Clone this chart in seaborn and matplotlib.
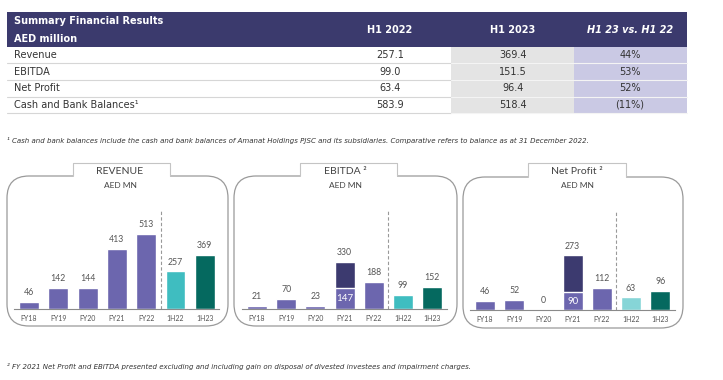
import numpy as np
import matplotlib
matplotlib.use('Agg')
import matplotlib.pyplot as plt
from matplotlib.patches import FancyBboxPatch, Rectangle
import seaborn as sns

# ---- data ----
row_labels = ['Revenue', 'EBITDA', 'Net Profit', 'Cash and Bank Balances\u00b9']
h1_2022 = [257.1, 99.0, 63.4, 583.9]
h1_2023 = [369.4, 151.5, 96.4, 518.4]
change = ['44%', '53%', '52%', '(11%)']

periods = ['FY18', 'FY19', 'FY20', 'FY21', 'FY22', '1H22', '1H23']
revenue = [46, 142, 144, 413, 513, 257, 369]
ebitda = [21, 70, 23, 330, 188, 99, 152]
ebitda_fy21_excl = 147
net_profit = [46, 52, 0, 273, 112, 63, 96]
net_profit_fy21_excl = 90

# ---- colours ----
header_col = '#3B3A6D'
purple = '#6C66AE'
navy = '#3C3A6F'
teal = '#3FBDC0'
teal_light = '#86D5D7'
dark_teal = '#05695F'
grey_txt = '#555555'

sns.set_theme(style='white')
plt.rcParams['font.family'] = ['DejaVu Sans']

W, H = 723, 380
fig = plt.figure(figsize=(W / 100, H / 100), dpi=100)

# background axes in pixel coordinates
bg = fig.add_axes([0, 0, 1, 1])
bg.set_xlim(0, W)
bg.set_ylim(H, 0)
bg.axis('off')

# ---- summary table ----
tx0, tx1 = 7, 687
bg.add_patch(Rectangle((tx0, 12), tx1 - tx0, 34.7, color=header_col, lw=0))
bg.text(14, 21, 'Summary Financial Results', color='white', fontsize=7, fontweight='bold', va='center')
bg.text(14, 39, 'AED million', color='white', fontsize=7, fontweight='bold', va='center')
col_x = [390, 513, 630]
bg.text(col_x[0], 30, 'H1 2022', color='white', fontsize=7, fontweight='bold', ha='center', va='center')
bg.text(col_x[1], 30, 'H1 2023', color='white', fontsize=7, fontweight='bold', ha='center', va='center')
bg.text(col_x[2], 30, 'H1 23 vs. H1 22', color='white', fontsize=7, fontweight='bold',
        fontstyle='italic', ha='center', va='center')

row_top = 46.7
row_h = 16.65
n = len(row_labels)
bg.add_patch(Rectangle((451, row_top), 123, row_h * n, color='#E4E4E4', lw=0))
bg.add_patch(Rectangle((574, row_top), tx1 - 574, row_h * n, color='#CAC9E4', lw=0))
for i in range(n):
    yc = row_top + row_h * (i + 0.5)
    bg.text(14, yc, row_labels[i], fontsize=7, color='#333333', va='center')
    bg.text(col_x[0], yc, f'{h1_2022[i]:.1f}', fontsize=7, color='#333333', ha='center', va='center')
    bg.text(col_x[1], yc, f'{h1_2023[i]:.1f}', fontsize=7, color='#333333', ha='center', va='center')
    bg.text(col_x[2], yc, change[i], fontsize=7, color='#333333', ha='center', va='center')
    yl = row_top + row_h * (i + 1)
    bg.plot([tx0, 451], [yl, yl], color='#D6D6D6', lw=0.8)
    bg.plot([451, tx1], [yl, yl], color='#F4F4F4', lw=0.8)

note_kw = dict(fontsize=5, fontstyle='italic', color='#333333', va='center')
bg.text(7, 141, '\u00b9 Cash and bank balances include the cash and bank balances of Amanat Holdings PJSC '
        'and its subsidiaries. Comparative refers to balance as at 31 December 2022.', **note_kw)
bg.text(7, 366, '\u00b2 FY 2021 Net Profit and EBITDA presented excluding and including gain on disposal '
        'of divested investees and impairment charges.', **note_kw)

# ---- chart frames ----
chart_font = ['Lato', 'DejaVu Sans']
frames = [
    # box x0, x1, top, bottom, tab x0, tab x1, title, title x
    (7, 228, 176, 326, 73, 170, 'REVENUE', 120),
    (234, 457, 176, 326, 300, 397, 'EBITDA \u00b2', 345),
    (463, 683, 177, 328, 528, 626, 'Net Profit \u00b2', 577),
]
for bx0, bx1, btop, bbot, tab0, tab1, title, tx in frames:
    bg.add_patch(FancyBboxPatch((bx0, btop), bx1 - bx0, bbot - btop,
                                boxstyle='round,pad=0,rounding_size=22',
                                fc='none', ec='#9A9A9A', lw=0.9))
    bg.add_patch(Rectangle((tab0, 163), tab1 - tab0, btop - 163 + 1.5, fc='white', ec='none', zorder=3))
    bg.plot([tab0, tab0, tab1, tab1], [btop, 163, 163, btop], color='#C4C4C4', lw=0.8, zorder=4)
    bg.text(tx, 172, title, family=chart_font, fontsize=7.5,
            color='#444444', ha='center', va='center', zorder=5)
    bg.text(tx, 185.5, 'AED MN', family=chart_font, fontsize=6,
            color='#444444', ha='center', va='center', zorder=5)


def chart_axes(x_first, baseline, ymax, spacing=29.3, height=100):
    x0 = x_first - spacing / 2
    ax = fig.add_axes([x0 / W, 1 - baseline / H, spacing * 7 / W, height / H])
    ax.set_facecolor('none')
    ax.set_ylim(0, ymax)
    return ax


def draw_bars(ax, values, colors, excl=None):
    sns.barplot(x=periods, y=values, hue=periods, palette=colors, legend=False,
                width=0.68, saturation=1, ax=ax)
    if excl is not None:
        sns.barplot(x=['FY21'], y=[excl], order=periods, color=purple, saturation=1,
                    width=0.68, edgecolor='white', linewidth=1, ax=ax)
        ax.text(3, excl / 2, str(excl), color='white', fontsize=7, family=chart_font,
                ha='center', va='center')
    for i, v in enumerate(values):
        ax.annotate(str(v), (i, v), xytext=(0, 3.5), textcoords='offset points',
                    ha='center', va='bottom', fontsize=6.3, color=grey_txt,
                    family=chart_font)
    ax.set_xlim(-0.5, 6.5)
    ax.axvline(4.5, color='#999999', lw=0.8, ls=(0, (3, 2)))
    sns.despine(ax=ax, left=True)
    ax.spines['bottom'].set_color('#8A8A8A')
    ax.spines['bottom'].set_linewidth(0.8)
    ax.set_yticks([])
    ax.set_xlabel('')
    ax.set_ylabel('')
    ax.set_xticks(np.arange(-0.5, 7, 1), minor=True)
    ax.tick_params(axis='x', which='major', length=0, pad=4, labelsize=5, labelcolor=grey_txt)
    ax.tick_params(axis='x', which='minor', length=2.5, width=0.6, color='#8A8A8A', direction='out')
    for lab in ax.get_xticklabels():
        lab.set_family(chart_font)


ax1 = chart_axes(29, 309, 685)
draw_bars(ax1, revenue, [purple] * 5 + [teal, dark_teal])

ax2 = chart_axes(257, 309, 700, spacing=29.2)
draw_bars(ax2, ebitda, [purple] * 3 + [navy, purple, teal, dark_teal], excl=ebitda_fy21_excl)

ax3 = chart_axes(485, 310, 500, spacing=29.2)
draw_bars(ax3, net_profit, [purple] * 3 + [navy, purple, teal_light, dark_teal], excl=net_profit_fy21_excl)

fig.savefig('out.png', dpi=100)
